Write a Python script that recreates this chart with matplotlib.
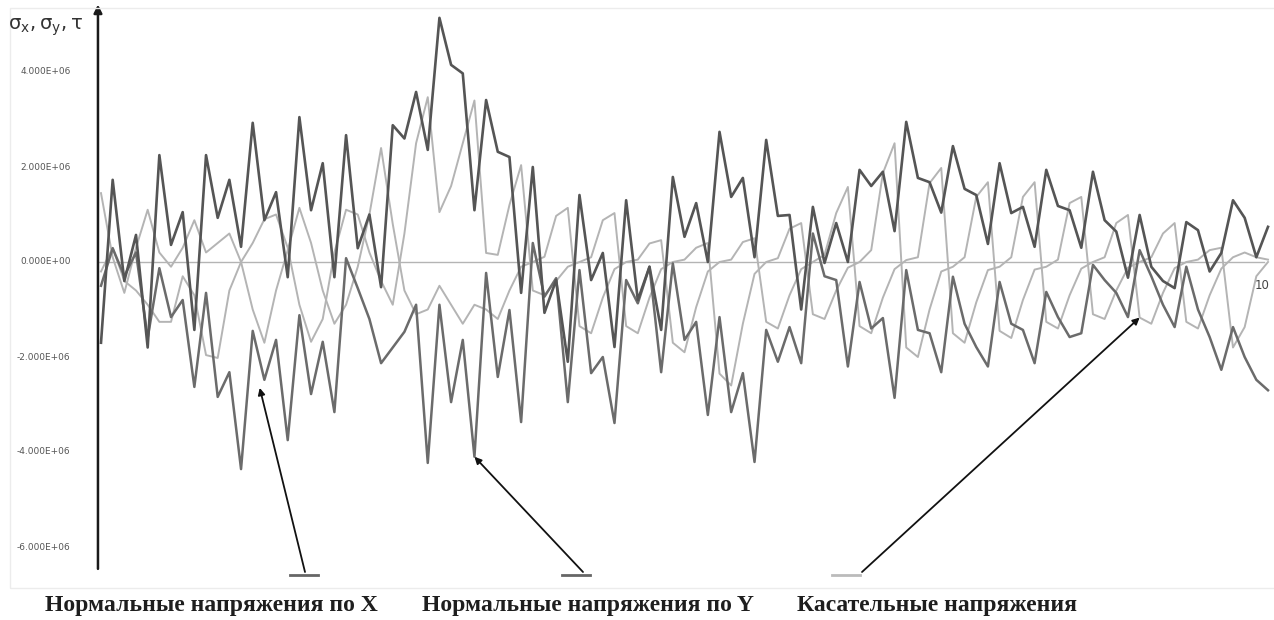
import matplotlib
matplotlib.use("Agg")
import matplotlib.pyplot as plt
from matplotlib.lines import Line2D
from matplotlib.patches import Rectangle

# напряжения в точках 0..100, в единицах 1E+06
sigma_x = [-1.7, 1.73, -0.4, 0.57, -1.8, 2.25, 0.36, 1.05, -1.43, 2.25,
           0.93, 1.73, 0.32, 2.93, 0.88, 1.47, -0.32, 3.05, 1.09, 2.08,
           -0.32, 2.67, 0.29, 1.0, -0.53, 2.88, 2.6, 3.58, 2.36, 5.14,
           4.15, 3.97, 1.09, 3.41, 2.32, 2.21, -0.65, 2.0, -1.07, -0.38,
           -2.1, 1.41, -0.38, 0.19, -1.79, 1.3, -0.8, -0.1, -1.43, 1.79,
           0.53, 1.24, 0.0, 2.74, 1.37, 1.77, 0.1, 2.57, 0.97, 0.99,
           -1.0, 1.16, -0.02, 0.82, 0.0, 1.94, 1.6, 1.9, 0.65, 2.95,
           1.77, 1.68, 1.04, 2.44, 1.54, 1.41, 0.38, 2.08, 1.03, 1.16,
           0.32, 1.94, 1.18, 1.09, 0.3, 1.9, 0.88, 0.64, -0.33, 0.99,
           -0.1, -0.4, -0.55, 0.84, 0.67, -0.2, 0.19, 1.3, 0.93, 0.1,
           0.74]
sigma_y = [-0.5, 0.29, -0.3, 0.2, -1.6, -0.13, -1.16, -0.8, -2.63, -0.65,
           -2.84, -2.32, -4.36, -1.45, -2.48, -1.64, -3.75, -1.12, -2.78, -1.68,
           -3.16, 0.08, -0.55, -1.2, -2.13, -1.8, -1.47, -0.9, -4.23, -0.9,
           -2.95, -1.64, -4.1, -0.23, -2.42, -1.01, -3.37, 0.4, -0.73, -0.34,
           -2.95, -0.17, -2.34, -2.0, -3.39, -0.38, -0.87, -0.1, -2.32, -0.03,
           -1.64, -1.26, -3.22, -1.16, -3.16, -2.34, -4.21, -1.43, -2.1, -1.37,
           -2.13, 0.6, -0.3, -0.38, -2.2, -0.42, -1.4, -1.18, -2.86, -0.17,
           -1.43, -1.5, -2.32, -0.31, -1.3, -1.79, -2.2, -0.42, -1.3, -1.43,
           -2.13, -0.63, -1.16, -1.58, -1.5, -0.06, -0.38, -0.65, -1.16, 0.25,
           -0.3, -0.9, -1.37, -0.1, -1.0, -1.58, -2.27, -1.37, -2.0, -2.48,
           -2.7]
tau_1 = [1.45, 0.1, -0.65, 0.3, 1.1, 0.2, -0.1, 0.3, 0.88, 0.2,
         0.4, 0.6, 0.0, -1.0, -1.7, -0.6, 0.25, 1.14, 0.4, -0.6,
         -1.3, -0.9, -0.1, 1.0, 2.4, 0.8, -0.6, -1.1, -1.0, -0.5,
         -0.9, -1.3, -0.9, -1.0, -1.2, -0.6, -0.1, 0.0, 0.11, 0.97,
         1.14, -1.35, -1.5, -0.75, -0.15, 0.0, 0.05, 0.39, 0.46, -1.7,
         -1.9, -0.95, -0.2, 0.0, 0.05, 0.42, 0.5, -1.26, -1.4, -0.7,
         -0.15, 0.0, 0.15, 1.03, 1.58, -1.35, -1.5, -0.75, -0.15, 0.04,
         0.1, 1.66, 1.98, -1.5, -1.7, -0.85, -0.17, -0.1, 0.1, 1.37,
         1.68, -1.26, -1.4, -0.7, -0.14, 0.0, 0.1, 0.82, 0.99, -1.17,
         -1.3, -0.65, -0.13, 0.0, 0.05, 0.25, 0.3, -1.8, -1.37, -0.3,
         0.0]
tau_2 = [-0.2, 0.3, -0.4, -0.6, -0.9, -1.26, -1.26, -0.3, -0.7, -1.96,
         -2.02, -0.6, 0.0, 0.4, 0.9, 1.0, 0.3, -0.9, -1.68, -1.2,
         0.2, 1.1, 1.0, 0.2, -0.4, -0.9, 0.6, 2.5, 3.47, 1.05,
         1.6, 2.5, 3.4, 0.19, 0.15, 1.2, 2.04, -0.6, -0.7, -0.4,
         -0.1, 0.0, 0.1, 0.88, 1.03, -1.35, -1.5, -0.75, -0.15, 0.0,
         0.05, 0.3, 0.4, -2.35, -2.6, -1.3, -0.25, 0.0, 0.08, 0.7,
         0.82, -1.1, -1.2, -0.6, -0.12, 0.0, 0.25, 1.87, 2.5, -1.8,
         -2.0, -1.0, -0.2, -0.1, 0.1, 1.37, 1.68, -1.45, -1.6, -0.8,
         -0.16, -0.1, 0.05, 1.24, 1.37, -1.1, -1.2, -0.6, -0.12, 0.0,
         0.1, 0.6, 0.82, -1.26, -1.4, -0.7, -0.14, 0.1, 0.2, 0.1,
         0.05]
points = list(range(len(sigma_x)))
y_ticks = [4e6, 2e6, 0.0, -2e6, -4e6, -6e6]
legend_names = ["Нормальные напряжения по X",
                "Нормальные напряжения по Y",
                "Касательные напряжения"]

W, H = 1274, 620
fig = plt.figure(figsize=(W / 100, H / 100), dpi=100)
ax = fig.add_axes([0, 0, 1, 1])
ax.axis("off")
ax.set_xlim(-101 / 11.67, (W - 101) / 11.67)
ax.set_ylim(-(H - 262) / 47.5 * 1e6, 262 / 47.5 * 1e6)

M = 1e6
ax.plot([-0.26, 99.7], [0, 0], color="#b4b4b4", lw=1.0, zorder=1)
ax.plot(points, [v * M for v in tau_1], color="#b4b4b4", lw=1.4, zorder=2)
ax.plot(points, [v * M for v in tau_2], color="#b4b4b4", lw=1.4, zorder=2)
ax.plot(points, [v * M for v in sigma_y], color="#6b6b6b", lw=1.8, zorder=3)
ax.plot(points, [v * M for v in sigma_x], color="#555555", lw=1.9, zorder=4)

# ось Y со стрелкой
ax.annotate("", xy=(-0.26, 5.42e6), xytext=(-0.26, -6.46e6),
            arrowprops=dict(arrowstyle="-|>", color="#1a1a1a", lw=1.8,
                            mutation_scale=12, shrinkA=0, shrinkB=0))
for t in y_ticks:
    ax.text(-2.6, t, "%.3E" % t, ha="right", va="center",
            fontsize=6.5, color="#555555")
# подпись конца оси X
ax.text(98.9, -0.5e6, "10", ha="left", va="center", fontsize=8.5, color="#444444")

fig.text(8 / W, 1 - 27 / H, r"$\mathregular{σ_x, σ_y, τ}$", fontsize=14,
         color="#333333", va="center", ha="left")

# рамка области диаграммы
fig.add_artist(Rectangle((10 / W, 1 - 588 / H), 1, 580 / H, transform=fig.transFigure,
                         fill=False, edgecolor="#ececec", lw=1))

# подписи серий со стрелками
marks = [(290, 318, "#666666"), (562, 590, "#666666"), (832, 860, "#bbbbbb")]
for x0, x1, c in marks:
    fig.add_artist(Line2D([x0 / W, x1 / W], [1 - 575 / H] * 2, color=c, lw=2,
                          transform=fig.transFigure))

tips = [(13.6, -2.65e6), (32, sigma_y[32] * M), (89, tau_1[89] * M)]
tails = [(305, 572), (583, 572), (862, 572)]
for tip, (tx, ty) in zip(tips, tails):
    ax.annotate("", xy=tip, xytext=(tx / W, 1 - ty / H), textcoords="figure fraction",
                arrowprops=dict(arrowstyle="-|>", color="#111111", lw=1.3,
                                mutation_scale=10, shrinkA=0, shrinkB=0))

for name, x in zip(legend_names, [45, 422, 797]):
    fig.text(x / W, 1 - 606 / H, name, fontsize=17, family="Liberation Serif",
             weight="bold", color="#1e1e1e", ha="left", va="center")

fig.savefig("out.png", dpi=100)
